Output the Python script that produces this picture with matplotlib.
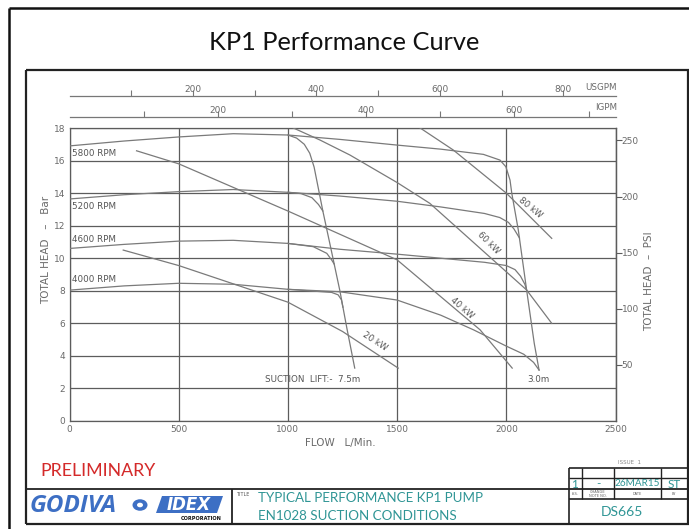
import matplotlib
matplotlib.use("Agg")
import matplotlib.pyplot as plt
from matplotlib.lines import Line2D
from matplotlib.patches import Circle, Polygon

W, H = 689, 529

# ---- data (flow L/min, head bar) ----
FLOW_5800 = [0, 250, 500, 750, 1000, 1238, 1500, 1700, 1895, 1971, 1998, 2017, 2025, 2055, 2093, 2128, 2150]
HEAD_5800 = [16.9, 17.2, 17.45, 17.65, 17.57, 17.3, 16.95, 16.7, 16.38, 16.03, 15.62, 14.8, 14.0, 11.73, 8.05, 4.77, 3.13]
FLOW_5800_LIFT = [1000, 1040, 1075, 1100, 1120, 1160, 1200, 1238, 1270, 1306]
HEAD_5800_LIFT = [17.57, 17.38, 17.0, 16.45, 15.6, 12.9, 10.4, 8.0, 5.7, 3.25]

FLOW_5200 = [0, 250, 500, 750, 1000, 1238, 1500, 1700, 1900, 1970, 2010, 2035, 2060]
HEAD_5200 = [13.64, 13.9, 14.09, 14.22, 14.05, 13.82, 13.5, 13.15, 12.75, 12.5, 12.2, 11.8, 11.25]
FLOW_5200_LIFT = [1000, 1060, 1110, 1140, 1160]
HEAD_5200_LIFT = [14.05, 13.97, 13.72, 13.3, 12.9]

FLOW_4600 = [0, 250, 500, 750, 1000, 1238, 1500, 1700, 1900, 2000, 2040, 2065, 2085, 2093]
HEAD_4600 = [10.6, 10.85, 11.05, 11.1, 10.91, 10.55, 10.25, 10.0, 9.75, 9.55, 9.3, 8.9, 8.4, 8.05]
FLOW_4600_LIFT = [1000, 1116, 1178, 1200, 1212]
HEAD_4600_LIFT = [10.91, 10.71, 10.3, 9.9, 9.64]

FLOW_4000 = [0, 250, 500, 750, 1000, 1238, 1500, 1700, 1850, 2000, 2080, 2125, 2150]
HEAD_4000 = [8.04, 8.3, 8.46, 8.4, 8.09, 7.94, 7.43, 6.5, 5.6, 4.6, 4.1, 3.6, 3.13]
FLOW_4000_LIFT = [1000, 1200, 1230, 1245, 1252]
HEAD_4000_LIFT = [8.09, 7.9, 7.75, 7.45, 6.99]

FLOW_20KW = [246, 500, 1000, 1250, 1505]
HEAD_20KW = [10.5, 9.55, 7.3, 5.5, 3.25]
FLOW_40KW = [307, 500, 1000, 1500, 1880, 2027]
HEAD_40KW = [16.6, 15.8, 12.9, 9.9, 5.6, 3.25]
FLOW_60KW = [1025, 1147, 1284, 1500, 1650, 2093, 2208]
HEAD_60KW = [18.0, 17.26, 16.34, 14.65, 13.37, 8.05, 6.0]
FLOW_80KW = [1600, 1757, 2000, 2208]
HEAD_80KW = [18.05, 16.65, 14.0, 11.22]

SPEED_LABELS = ["5800 RPM", "5200 RPM", "4600 RPM", "4000 RPM"]
SPEED_LABEL_HEAD = [16.46, 13.16, 11.12, 8.7]
POWER_LABELS = ["20 kW", "40 kW", "60 kW", "80 kW"]
POWER_LABEL_FLOW = [1399, 1796, 1918, 2112]
POWER_LABEL_HEAD = [4.87, 6.92, 10.91, 13.1]
POWER_LABEL_ROT = [-33, -41, -45, -39]

BAR_TICKS = list(range(0, 19, 2))
FLOW_TICKS = [0, 500, 1000, 1500, 2000, 2500]
PSI_TICKS = [50, 100, 150, 200, 250]
USGPM_TICKS = [100, 200, 300, 400, 500, 600, 700, 800]
USGPM_LABELED = [200, 400, 600, 800]
IGPM_TICKS = [100, 200, 300, 400, 500, 600, 700]
IGPM_LABELED = [200, 400, 600]

PSI_PER_BAR = 14.5038
LPM_PER_USGPM = 2.826   # as drawn on the sheet
LPM_PER_IGPM = 3.395

GRID = "#5c5c5c"
CURVE = "#7a7a7a"
TXT = "#6a6a6a"
TEAL = "#2f9595"


def fx(px):
    return px / W


def fy(py):
    return 1 - py / H


def fig_line(fig, x0, y0, x1, y1, lw=1.0, color="#222222"):
    fig.add_artist(Line2D([fx(x0), fx(x1)], [fy(y0), fy(y1)], transform=fig.transFigure,
                          lw=lw, color=color, solid_capstyle="butt"))


fig = plt.figure(figsize=(W / 100, H / 100), dpi=100)

# slide + drawing frames
fig_line(fig, 9, 8, 689, 8, lw=1.8, color="#111111")
fig_line(fig, 9, 8, 9, 529, lw=1.8, color="#111111")
fig_line(fig, 26, 70, 689, 70, lw=1.6, color="#222222")
fig_line(fig, 26, 70, 26, 524, lw=1.6, color="#222222")
fig_line(fig, 26, 524, 689, 524, lw=1.6, color="#222222")
fig_line(fig, 687.5, 70, 687.5, 524, lw=1.6, color="#222222")

fig.text(fx(344), fy(42), "KP1 Performance Curve", ha="center", va="center",
         fontsize=18.3, family="Lato", color="#111111")

# ---- main chart ----
x0, x1, ytop, ybot = 69.5, 615.5, 128, 421
ax = fig.add_axes([fx(x0), fy(ybot), (x1 - x0) / W, (ybot - ytop) / H])
ax.set_xlim(0, 2500)
ax.set_ylim(0, 18)
ax.set_xticks(FLOW_TICKS)
ax.set_yticks(BAR_TICKS)
ax.grid(True, color=GRID, lw=0.9)
ax.tick_params(length=0, labelsize=6.5, labelcolor=TXT, pad=3)
for s in ax.spines.values():
    s.set_color(GRID)
    s.set_linewidth(0.9)

curves = [
    (FLOW_5800, HEAD_5800), (FLOW_5800_LIFT, HEAD_5800_LIFT),
    (FLOW_5200, HEAD_5200), (FLOW_5200_LIFT, HEAD_5200_LIFT),
    (FLOW_4600, HEAD_4600), (FLOW_4600_LIFT, HEAD_4600_LIFT),
    (FLOW_4000, HEAD_4000), (FLOW_4000_LIFT, HEAD_4000_LIFT),
    (FLOW_20KW, HEAD_20KW), (FLOW_40KW, HEAD_40KW),
    (FLOW_60KW, HEAD_60KW), (FLOW_80KW, HEAD_80KW),
]
for q, h in curves:
    ax.plot(q, h, color=CURVE, lw=0.9, zorder=3)

for label, head in zip(SPEED_LABELS, SPEED_LABEL_HEAD):
    ax.text(12, head, label, fontsize=6.3, color="#555555", va="center", ha="left")
for label, q, h, rot in zip(POWER_LABELS, POWER_LABEL_FLOW, POWER_LABEL_HEAD, POWER_LABEL_ROT):
    ax.text(q, h, label, fontsize=6.3, color="#555555", va="center", ha="center",
            rotation=rot, rotation_mode="anchor")
ax.text(895, 2.58, "SUCTION  LIFT:-  7.5m", fontsize=6.3, color="#555555", va="center", ha="left")
ax.text(2145, 2.58, "3.0m", fontsize=6.3, color="#555555", va="center", ha="center")

# PSI scale on the right
ax2 = ax.twinx()
ax2.set_ylim(0, 18 * PSI_PER_BAR)
ax2.set_yticks(PSI_TICKS)
ax2.tick_params(length=4, width=0.8, color=GRID, labelsize=6.5, labelcolor=TXT, pad=0.5)
for name, s in ax2.spines.items():
    s.set_visible(name == "right")
    s.set_color(GRID)
    s.set_linewidth(0.9)

# flow scales on top
for loc_px, factor, ticks, labeled, unit in [
    (96, LPM_PER_USGPM, USGPM_TICKS, USGPM_LABELED, "USGPM"),
    (117, LPM_PER_IGPM, IGPM_TICKS, IGPM_LABELED, "IGPM"),
]:
    loc = 1 + (ytop - loc_px) / (ybot - ytop)
    sec = ax.secondary_xaxis(loc, functions=(lambda x, f=factor: x / f, lambda u, f=factor: u * f))
    sec.set_xticks(ticks)
    sec.set_xticklabels([str(t) if t in labeled else "" for t in ticks])
    sec.tick_params(length=4, width=0.8, color="#777777", labelsize=6.5, labelcolor=TXT, pad=-2.5)
    sec.spines["top"].set_color("#777777")
    sec.spines["top"].set_linewidth(0.9)
    fig.text(fx(617), fy(loc_px - 9), unit, fontsize=6.3, color=TXT, ha="right", va="center")

fig.text(fx(340), fy(443), "FLOW   L/Min.", fontsize=7.5, color=TXT, ha="center", va="center")
fig.text(fx(46), fy(250), "TOTAL HEAD   \u2013   Bar", fontsize=7.5, color=TXT,
         ha="center", va="center", rotation=90)
fig.text(fx(649), fy(281), "TOTAL HEAD  \u2013  PSI", fontsize=7.5, color=TXT,
         ha="center", va="center", rotation=90)

# ---- title block ----
fig.text(fx(40), fy(471), "PRELIMINARY", fontsize=12.8, family="Lato", color="#d42a2a",
         ha="left", va="center")
fig_line(fig, 26, 489, 689, 489, lw=1.3)
fig_line(fig, 232, 489, 232, 524, lw=1.3)
fig.text(fx(236), fy(494), "TITLE", fontsize=3.5, color="#555555", ha="left", va="center")
fig.text(fx(258), fy(498), "TYPICAL PERFORMANCE KP1 PUMP", fontsize=9.6, family="Lato",
         color=TEAL, ha="left", va="center")
fig.text(fx(258), fy(516), "EN1028 SUCTION CONDITIONS", fontsize=9.6, family="Lato",
         color=TEAL, ha="left", va="center")

# logos
fig.text(fx(30), fy(506), "GODIVA", fontsize=17.5, family="Open Sans", weight="bold",
         style="italic", color="#3d6fc4", ha="left", va="center")
fig.add_artist(Circle((fx(140), fy(505)), 7.5 / W, transform=fig.transFigure,
                      color="#3d6fc4", ec="none"))
fig.add_artist(Circle((fx(140), fy(505)), 3 / W, transform=fig.transFigure,
                      color="white", ec="none"))
fig.add_artist(Polygon([(fx(156), fy(513)), (fx(162), fy(496)), (fx(223), fy(496)),
                        (fx(217), fy(513))], closed=True, transform=fig.transFigure,
                       color="#3d6fc4", ec="none"))
fig.text(fx(189), fy(505), "IDEX", fontsize=12, family="DejaVu Sans", weight="bold",
         style="italic", color="white", ha="center", va="center")
fig.text(fx(222), fy(518), "CORPORATION", fontsize=3.6, weight="bold", color="#111111",
         ha="right", va="center")

# issue table
fig_line(fig, 569, 468, 689, 468, lw=1.2)
fig_line(fig, 569, 478, 689, 478, lw=1.0)
fig_line(fig, 569, 499, 689, 499, lw=1.2)
fig_line(fig, 569, 468, 569, 524, lw=1.2)
for xv in [582, 614, 661]:
    fig_line(fig, xv, 468, xv, 499, lw=1.0)
fig.text(fx(630), fy(462), "ISSUE  1", fontsize=4, color="#888888", ha="center", va="center")
for xc, s, size in zip([575, 598, 637.5, 674], ["1", "-", "26MAR15", "ST"], [8.5, 8.5, 7.2, 8.5]):
    fig.text(fx(xc), fy(484), s, fontsize=size, family="Lato", color=TEAL, ha="center", va="center")
for xc, s in zip([575, 598, 637, 674], ["ISS.", "CHANGE\nNOTE NO.", "DATE", "BY"]):
    fig.text(fx(xc), fy(494), s, fontsize=2.6, color="#666666", ha="center", va="center",
             linespacing=0.9)
fig.text(fx(622), fy(512), "DS665", fontsize=10, family="Lato", color=TEAL,
         ha="center", va="center")

fig.savefig("out.png", dpi=100)
